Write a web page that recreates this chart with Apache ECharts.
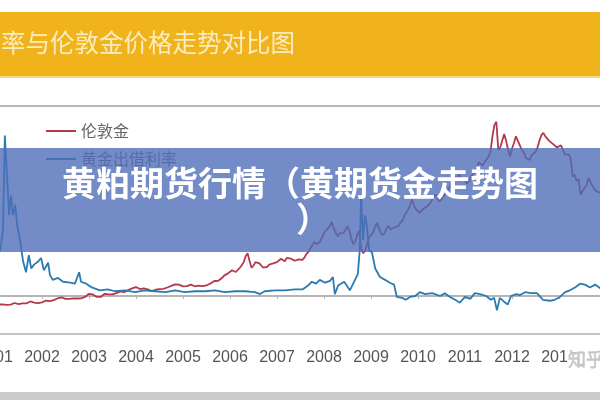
<!DOCTYPE html>
<html>
<head>
<meta charset="utf-8">
<script src="https://cdn.jsdelivr.net/npm/echarts@6/dist/echarts.min.js"></script>
<style>
html,body{margin:0;padding:0;background:#fff;}
#chart{width:600px;height:400px;}
</style>
</head>
<body>
<div id="chart"></div>
<script>
// ---- Data ----
var titleText = '率与伦敦金价格走势对比图';
var bannerLine1 = '黄粕期货行情（黄期货金走势图';
var bannerLine2 = '）';
var seriesNames = ['伦敦金', '黄金出借利率'];
var yearLabels = [2001, 2002, 2003, 2004, 2005, 2006, 2007, 2008, 2009, 2010, 2011, 2012, 2013];

// London gold, semi-monthly values starting 2001.0 (USD/oz)
var goldStart = 2001;
var gold2001 = [268, 265, 262, 258, 264, 262, 260, 257, 262, 270, 276, 268, 266, 270, 272, 266, 272, 278, 290, 284, 280, 276, 274, 278];
var gold2002 = [282, 285, 298, 296, 292, 298, 302, 308, 318, 324, 326, 318, 312, 306, 312, 308, 318, 322, 316, 320, 318, 322, 330, 344];
var gold2003 = [358, 368, 352, 340, 330, 325, 330, 338, 358, 364, 352, 348, 352, 360, 364, 374, 380, 384, 372, 388, 392, 396, 406, 414];
var gold2004 = [418, 405, 400, 410, 406, 420, 398, 390, 382, 388, 394, 398, 400, 408, 402, 412, 414, 420, 428, 436, 442, 450, 440, 430];
var gold2005 = [424, 418, 426, 432, 440, 428, 425, 422, 430, 438, 426, 420, 432, 440, 450, 462, 472, 466, 474, 490, 500, 520, 530, 540];
var gold2006 = [552, 568, 558, 552, 560, 590, 612, 640, 692, 720, 650, 590, 610, 640, 632, 628, 620, 590, 582, 598, 618, 630, 628, 620];
var gold2007 = [640, 652, 670, 655, 648, 678, 688, 672, 660, 652, 660, 665, 676, 660, 680, 712, 730, 760, 790, 820, 800, 790, 820, 860];
var gold2008 = [900, 920, 935, 960, 1000, 940, 900, 870, 895, 880, 900, 930, 960, 920, 845, 800, 825, 880, 920, 760, 720, 740, 800, 860];
var gold2009 = [850, 900, 950, 990, 945, 900, 880, 900, 940, 960, 930, 930, 950, 945, 960, 990, 1010, 1050, 1060, 1110, 1150, 1200, 1140, 1110];
var gold2010 = [1100, 1080, 1100, 1120, 1110, 1140, 1160, 1190, 1220, 1240, 1210, 1180, 1200, 1230, 1250, 1280, 1300, 1340, 1360, 1400, 1380, 1420, 1390, 1380];
var gold2011 = [1370, 1340, 1360, 1400, 1420, 1440, 1470, 1530, 1540, 1500, 1530, 1520, 1580, 1620, 1760, 1860, 1890, 1640, 1660, 1720, 1780, 1720, 1640, 1580];
var gold2012 = [1650, 1700, 1760, 1720, 1680, 1640, 1620, 1570, 1560, 1550, 1590, 1600, 1620, 1660, 1720, 1770, 1790, 1760, 1740, 1720, 1720, 1690, 1680, 1660];
var gold2013 = [1670, 1680, 1640, 1600, 1590, 1600, 1560, 1400, 1420, 1360, 1380, 1240, 1230, 1300, 1320, 1390, 1380, 1320, 1310, 1270, 1280, 1260];

// Gold lending (lease) rate, % — dates as decimal years
var leaseYears = [2000.89, 2001.11, 2001.17, 2001.21, 2001.26, 2001.30, 2001.34, 2001.38, 2001.43, 2001.47, 2001.53, 2001.60, 2001.66, 2001.72, 2001.77, 2001.83, 2001.91, 2001.98,
  2002.04, 2002.13, 2002.17, 2002.23, 2002.34, 2002.45, 2002.60, 2002.70, 2002.79, 2002.83, 2002.94,
  2003.06, 2003.23, 2003.40, 2003.55, 2003.77, 2003.98, 2004.19, 2004.40, 2004.62, 2004.83,
  2005.04, 2005.26, 2005.47, 2005.68, 2005.89, 2006.11, 2006.32, 2006.53, 2006.64, 2006.74, 2006.96,
  2007.17, 2007.38, 2007.55, 2007.66, 2007.74, 2007.83, 2007.91, 2008.02, 2008.13, 2008.19, 2008.23, 2008.30, 2008.43, 2008.55, 2008.66, 2008.72, 2008.76, 2008.79, 2008.83, 2008.87, 2008.91, 2008.96,
  2009.02, 2009.09, 2009.19, 2009.30, 2009.40, 2009.49, 2009.55, 2009.66, 2009.74, 2009.83, 2009.94,
  2010.04, 2010.15, 2010.30, 2010.47, 2010.57, 2010.68, 2010.79, 2010.89, 2011.00, 2011.11, 2011.21, 2011.32, 2011.45, 2011.55, 2011.62, 2011.68, 2011.74, 2011.83, 2011.91, 2011.98,
  2012.09, 2012.17, 2012.28, 2012.40, 2012.53, 2012.66, 2012.81, 2012.91, 2013.02, 2013.13, 2013.23, 2013.34, 2013.45, 2013.55, 2013.66, 2013.77, 2013.91];
var leaseRates = [0.43, 0.48, 0.69, 1.69, 1.22, 0.85, 1.06, 0.85, 0.96, 0.75, 0.59, 0.36, 0.25, 0.43, 0.29, 0.33, 0.36, 0.40,
  0.27, 0.35, 0.22, 0.17, 0.19, 0.15, 0.14, 0.13, 0.25, 0.15, 0.13,
  0.09, 0.06, 0.07, 0.05, 0.06, 0.04, 0.06, 0.05, 0.04, 0.06,
  0.04, 0.05, 0.05, 0.06, 0.04, 0.05, 0.05, 0.04, 0.02, 0.05, 0.06,
  0.06, 0.07, 0.07, 0.11, 0.15, 0.13, 0.17, 0.14, 0.16, 0.20, 0.02, 0.11, 0.15, 0.06, 0.17, 0.23, 0.48, 1.06, 0.59, 0.85, 0.75, 0.48,
  0.46, 0.29, 0.20, 0.17, 0.14, 0.12, -0.01, -0.02, -0.04, -0.01, 0.00,
  0.04, 0.02, 0.03, 0.00, 0.03, -0.01, -0.04, -0.07, -0.01, -0.03, 0.03, 0.02, 0.00, -0.04, -0.02, -0.15, -0.02, -0.06, -0.09, 0.00,
  0.02, 0.01, 0.04, 0.03, 0.03, -0.04, -0.05, -0.04, -0.01, 0.04, 0.06, 0.09, 0.13, 0.12, 0.09, 0.12, 0.07];

// ---- Build ----
var goldPrices = [].concat(gold2001, gold2002, gold2003, gold2004, gold2005, gold2006, gold2007,
  gold2008, gold2009, gold2010, gold2011, gold2012, gold2013);
var goldData = goldPrices.map(function (v, i) { return [goldStart + i / 24, v]; });
var leaseData = leaseYears.map(function (y, i) { return [y, leaseRates[i]]; });

var chart = echarts.init(document.getElementById('chart'), null, { renderer: 'canvas' });
var FONT = '"Noto Sans CJK SC", "Noto Sans", sans-serif';

chart.setOption({
  animation: false,
  backgroundColor: '#ffffff',
  grid: { left: -52, right: -6, top: 106, bottom: 66, containLabel: false, outerBoundsMode: 'none' },
  legend: {
    orient: 'vertical', left: 41, top: 118, itemWidth: 30, itemHeight: 2, itemGap: 12,
    icon: 'rect',
    textStyle: { color: '#666', fontSize: 16, fontFamily: FONT },
    data: seriesNames
  },
  xAxis: [{
    type: 'value', min: 2000, max: 2014, interval: 1,
    axisLine: { show: false, onZero: false }, axisTick: { show: false }, splitLine: { show: false },
    axisLabel: {
      margin: 16, color: '#555', fontSize: 16, fontFamily: '"Liberation Sans", Arial, sans-serif',
      hideOverlap: false,
      formatter: function (v) { return yearLabels.indexOf(v) >= 0 ? String(v) : ''; }
    }
  }, {
    type: 'value', min: 2000, max: 2014, interval: 1, position: 'bottom',
    axisLine: { show: true, onZero: true, onZeroAxisIndex: 1, lineStyle: { color: '#b4b4b4', width: 2 } },
    axisTick: { show: true, length: 3, lineStyle: { color: '#b4b4b4', width: 1 } },
    axisLabel: { show: false }, splitLine: { show: false }
  }],
  yAxis: [{
    type: 'value', min: 0, max: 2030, show: false, splitLine: { show: false }
  }, {
    type: 'value', min: -0.4, max: 2.0, show: false, splitLine: { show: false }
  }],
  series: [{
    name: seriesNames[0], type: 'line', xAxisIndex: 0, yAxisIndex: 0,
    data: goldData, showSymbol: false, symbol: 'none',
    lineStyle: { color: '#b23a4c', width: 1.8 }, itemStyle: { color: '#b23a4c' }, z: 3
  }, {
    name: seriesNames[1], type: 'line', xAxisIndex: 0, yAxisIndex: 1,
    data: leaseData, showSymbol: false, symbol: 'none',
    lineStyle: { color: '#2b7bb0', width: 1.8 }, itemStyle: { color: '#2b7bb0' }, z: 4
  }],
  graphic: [
    { type: 'rect', shape: { x: 0, y: 12, width: 600, height: 66 }, style: { fill: '#f1b31c' }, z: 50 },
    { type: 'rect', shape: { x: 0, y: 76, width: 600, height: 2 }, style: { fill: '#f7d879' }, z: 51 },
    { type: 'text', x: 1, y: 43, z: 52,
      style: { text: titleText, fill: '#fbecc0', font: '24.5px ' + FONT, align: 'left', verticalAlign: 'middle' } },
    { type: 'rect', shape: { x: 0, y: 105, width: 600, height: 2 }, style: { fill: '#b9b9b9' }, z: 50 },
    { type: 'rect', shape: { x: 0, y: 333, width: 600, height: 2 }, style: { fill: '#c4c4c4' }, z: 50 },
    { type: 'rect', shape: { x: 0, y: 392, width: 600, height: 8 }, style: { fill: '#cbcbcb' }, z: 50 },
    { type: 'rect', shape: { x: 567, y: 346, width: 33, height: 26 }, style: { fill: '#ffffff' }, z: 50 },
    { type: 'text', x: 568, y: 359, z: 51,
      style: { text: '知乎', fill: '#c8c8c8', font: '18px ' + FONT, align: 'left', verticalAlign: 'middle',
        stroke: '#888', lineWidth: 0.3 } },
    { type: 'rect', shape: { x: 0, y: 148, width: 600, height: 104 }, style: { fill: 'rgba(80,110,184,0.8)' }, z: 100 },
    { type: 'text', x: 300, y: 183, z: 101,
      style: { text: bannerLine1, fill: '#ffffff', font: 'bold 34px ' + FONT, align: 'center', verticalAlign: 'middle',
        shadowColor: 'rgba(0,0,0,0.35)', shadowBlur: 3, shadowOffsetX: 1, shadowOffsetY: 1 } },
    { type: 'text', x: 296, y: 219, z: 101,
      style: { text: bannerLine2, fill: '#ffffff', font: 'bold 34px ' + FONT, align: 'left', verticalAlign: 'middle',
        shadowColor: 'rgba(0,0,0,0.35)', shadowBlur: 3, shadowOffsetX: 1, shadowOffsetY: 1 } }
  ]
});
</script>
</body>
</html>
